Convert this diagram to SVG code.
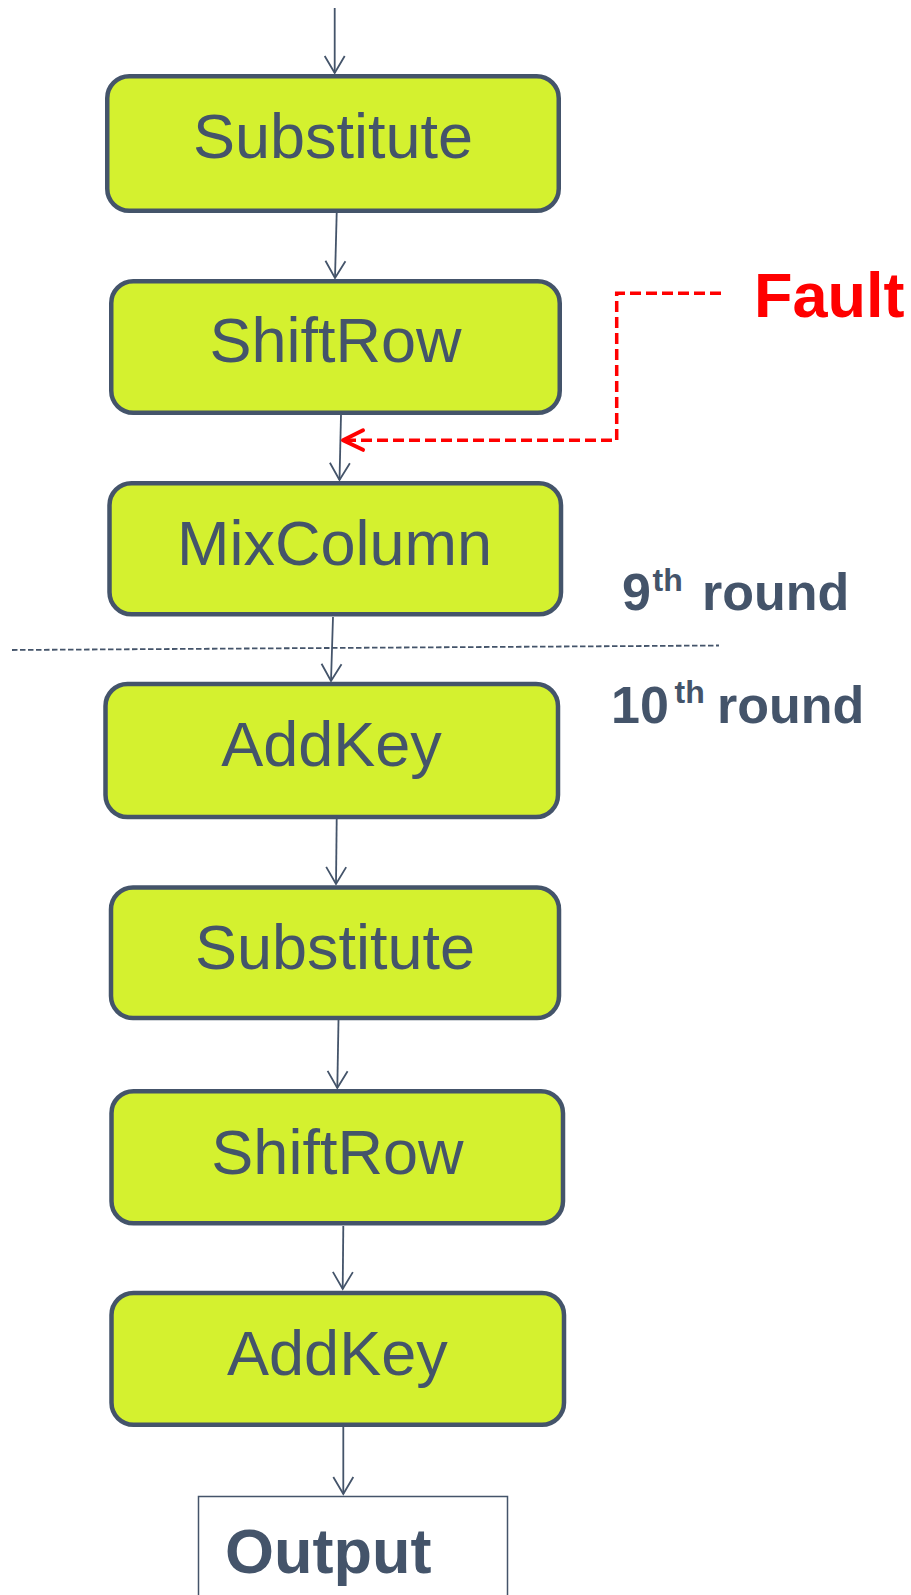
<svg xmlns="http://www.w3.org/2000/svg" width="911" height="1595" viewBox="0 0 911 1595">
  <style>
    .step rect { fill: #D4F12F; stroke: #44546A; stroke-width: 4.5; }
    .step text { font-family: "Liberation Sans", Arial, sans-serif; font-size: 63px; fill: #44546A; text-anchor: middle; }
    .flow { fill: none; stroke: #44546A; stroke-width: 1.8; }
    .fault { fill: none; stroke: #FF0000; stroke-width: 3.5; stroke-dasharray: 11 5; }
    .label { font-family: "Liberation Sans", Arial, sans-serif; font-weight: bold; fill: #44546A; }
  </style>
  <defs>
    <marker id="arrow" markerUnits="userSpaceOnUse" viewBox="-20 -12 24 24" markerWidth="24" markerHeight="24" refX="0" refY="0" orient="auto">
      <path d="M-17,-10 L0,0 L-17,10" fill="none" stroke="#44546A" stroke-width="1.8"/>
    </marker>
    <marker id="arrow-red" markerUnits="userSpaceOnUse" viewBox="-24 -13 28 26" markerWidth="28" markerHeight="26" refX="0" refY="0" orient="auto">
      <path d="M-20,-9.5 L0,0 L-20,10" fill="none" stroke="#FF0000" stroke-width="4" stroke-linecap="round" stroke-linejoin="round"/>
    </marker>
  </defs>

  <rect width="911" height="1595" fill="#FFFFFF"/>

  <!-- round boundary -->
  <line x1="12" y1="650" x2="719" y2="645.5" stroke="#44546A" stroke-width="1.8" stroke-dasharray="5.5 2.5"/>

  <g id="connectors">
    <line class="flow" x1="334.7" y1="8" x2="334.7" y2="73" marker-end="url(#arrow)"/>
    <line class="flow" x1="336.7" y1="213" x2="335" y2="278" marker-end="url(#arrow)"/>
    <line class="flow" x1="341" y1="415" x2="339.5" y2="480" marker-end="url(#arrow)"/>
    <line class="flow" x1="333" y1="617" x2="331" y2="681" marker-end="url(#arrow)"/>
    <line class="flow" x1="336.7" y1="819" x2="336" y2="884" marker-end="url(#arrow)"/>
    <line class="flow" x1="338.5" y1="1020" x2="337.3" y2="1088" marker-end="url(#arrow)"/>
    <line class="flow" x1="343.3" y1="1226" x2="342.7" y2="1289" marker-end="url(#arrow)"/>
    <line class="flow" x1="343.3" y1="1427" x2="343.3" y2="1494" marker-end="url(#arrow)"/>
    <path class="fault" d="M721,293.3 H616.7 V440.3 H343" marker-end="url(#arrow-red)"/>
  </g>

  <g id="substitute-9" class="step">
    <rect x="107.25" y="76.25" width="451.5" height="134.5" rx="22"/>
    <text x="333" y="158">Substitute</text>
  </g>
  <g id="shiftrow-9" class="step">
    <rect x="111.25" y="281.25" width="448.5" height="131.5" rx="22"/>
    <text x="335.5" y="362">ShiftRow</text>
  </g>
  <g id="mixcolumn-9" class="step">
    <rect x="109.5" y="483.25" width="451.5" height="131" rx="22"/>
    <text x="334.5" y="565">MixColumn</text>
  </g>
  <g id="addkey-9" class="step">
    <rect x="105.5" y="684" width="452.5" height="133" rx="22"/>
    <text x="331.5" y="766">AddKey</text>
  </g>
  <g id="substitute-10" class="step">
    <rect x="111" y="887.5" width="448" height="130.5" rx="22"/>
    <text x="335" y="969">Substitute</text>
  </g>
  <g id="shiftrow-10" class="step">
    <rect x="111.5" y="1091.25" width="451.5" height="132" rx="22"/>
    <text x="337.4" y="1174">ShiftRow</text>
  </g>
  <g id="addkey-10" class="step">
    <rect x="111.5" y="1293" width="452.5" height="131.8" rx="22"/>
    <text x="337.4" y="1375">AddKey</text>
  </g>

  <g id="output">
    <rect x="198.5" y="1496.5" width="309" height="130" fill="#FFFFFF" stroke="#44546A" stroke-width="1.5"/>
    <text class="label" x="225" y="1573" font-size="63">Output</text>
  </g>

  <g id="fault">
    <text x="754" y="317" font-family="Liberation Sans, Arial, sans-serif" font-weight="bold" font-size="63" fill="#FF0000">Fault</text>
  </g>

  <g id="round-9">
    <text class="label" font-size="52" x="622" y="610">9</text>
    <text class="label" font-size="32" x="652.5" y="591">th</text>
    <text class="label" font-size="52" x="702" y="610">round</text>
  </g>
  <g id="round-10">
    <text class="label" font-size="52" x="611" y="723">10</text>
    <text class="label" font-size="32" x="674.5" y="703">th</text>
    <text class="label" font-size="52" x="717" y="723">round</text>
  </g>
</svg>
